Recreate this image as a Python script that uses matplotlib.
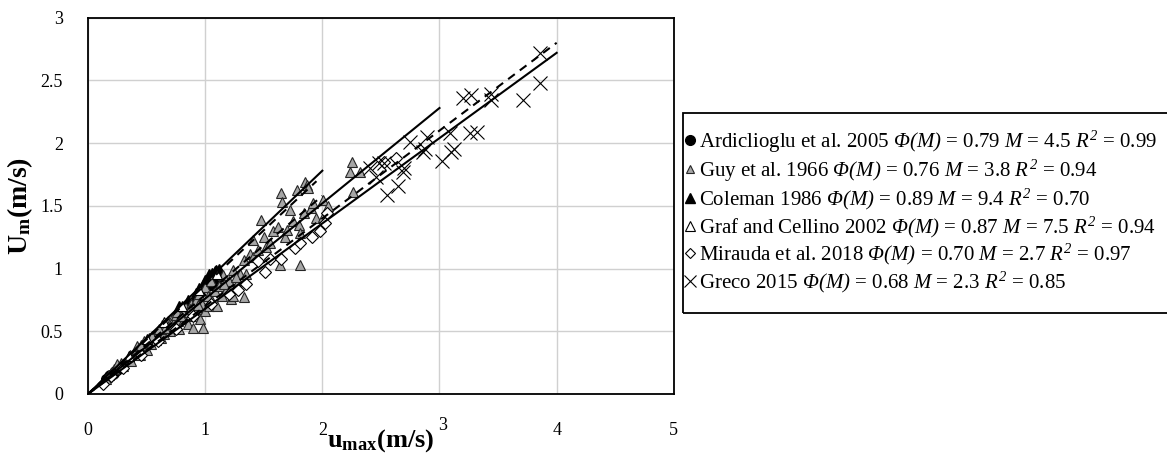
import matplotlib
matplotlib.use("Agg")
import matplotlib.pyplot as plt
from matplotlib.patches import Rectangle
import matplotlib.transforms as mtransforms
import numpy as np

# ---- data ----
ardi_x = [0.15, 0.17, 0.19, 0.21, 0.23, 0.25, 0.18, 0.22]
ardi_y = [0.12, 0.13, 0.15, 0.16, 0.18, 0.19, 0.14, 0.17]

guy_x = [0.15, 0.18, 0.20, 0.22, 0.25, 0.28, 0.30, 0.33, 0.35, 0.37, 0.40, 0.42, 0.44,
         0.46, 0.48, 0.50, 0.52, 0.54, 0.56, 0.58, 0.60, 0.62, 0.63, 0.65, 0.67, 0.68,
         0.70, 0.72, 0.74, 0.75, 0.77, 0.78, 0.80, 0.82, 0.83, 0.85, 0.86, 0.88, 0.90,
         0.90, 0.92, 0.93, 0.95, 0.96, 0.97, 0.98, 1.00, 1.00, 1.02, 1.03, 1.05, 1.06,
         1.08, 1.10, 1.12, 1.14, 1.15, 1.18, 1.20, 1.22, 1.24, 1.24, 1.27, 1.30, 1.33,
         1.33, 1.35, 1.38, 1.41, 1.41, 1.45, 1.48, 1.50, 1.52, 1.55, 1.58, 1.62, 1.64,
         1.65, 1.66, 1.68, 1.70, 1.72, 1.75, 1.78, 1.80, 1.81, 1.81, 1.84, 1.85, 1.87,
         1.88, 1.90, 1.92, 1.95, 2.01, 2.01, 2.05, 2.24, 2.25, 2.26, 2.32,
         0.45, 0.55, 0.66, 0.76, 0.87, 0.36, 0.61, 0.71, 0.79, 0.94, 1.16, 1.26]
guy_y = [0.12, 0.15, 0.17, 0.20, 0.24, 0.25, 0.22, 0.27, 0.30, 0.26, 0.33, 0.38, 0.31,
         0.36, 0.42, 0.35, 0.45, 0.40, 0.47, 0.43, 0.50, 0.45, 0.55, 0.48, 0.52, 0.58,
         0.50, 0.60, 0.55, 0.63, 0.58, 0.52, 0.66, 0.60, 0.70, 0.56, 0.65, 0.72, 0.62,
         0.53, 0.75, 0.68, 0.80, 0.60, 0.72, 0.53, 0.85, 0.66, 0.78, 0.70, 0.90, 0.74,
         0.82, 0.70, 0.86, 0.78, 0.95, 0.83, 0.90, 0.76, 0.99, 0.78, 0.88, 0.96, 0.77,
         1.07, 0.96, 1.12, 1.09, 1.23, 1.15, 1.39, 1.25, 1.17, 1.20, 1.30, 1.33, 1.03,
         1.60, 1.53, 1.25, 1.31, 1.47, 1.38, 1.63, 1.35, 1.28, 1.03, 1.44, 1.69, 1.67,
         1.64, 1.48, 1.52, 1.40, 1.55, 1.41, 1.50, 1.77, 1.85, 1.61, 1.77,
         0.39, 0.46, 0.53, 0.65, 0.68, 0.31, 0.52, 0.56, 0.62, 0.71, 0.88, 0.93]

cole_x = [0.78, 0.85, 0.92, 0.95, 0.98, 1.00, 1.02, 1.03, 1.04, 1.05, 1.06, 1.07, 1.08,
          1.09, 1.10, 1.11, 1.12, 1.04, 1.08]
cole_y = [0.69, 0.74, 0.80, 0.84, 0.86, 0.90, 0.92, 0.95, 0.88, 0.94, 0.96, 0.90, 0.93,
          0.98, 0.95, 0.97, 0.99, 0.91, 0.97]

graf_x = [0.35, 0.50, 0.65, 0.80, 0.95, 1.10]
graf_y = [0.30, 0.44, 0.57, 0.70, 0.83, 0.96]

mira_x = [0.13, 0.20, 0.30, 0.45, 0.60, 0.75, 0.90, 1.05, 1.20, 1.28, 1.35, 1.45, 1.51,
          1.55, 1.65, 1.77, 1.81, 1.91, 1.98, 2.02, 2.04, 2.53, 2.63]
mira_y = [0.08, 0.14, 0.21, 0.31, 0.42, 0.52, 0.62, 0.72, 0.80, 0.83, 0.88, 1.06, 0.97,
          1.08, 1.08, 1.16, 1.20, 1.25, 1.30, 1.36, 1.44, 1.85, 1.88]

greco_x = [2.41, 2.46, 2.48, 2.53, 2.55, 2.65, 2.69, 2.70, 2.75, 2.86, 2.88, 2.89, 3.02,
           3.09, 3.10, 3.12, 3.20, 3.26, 3.27, 3.32, 3.44, 3.44, 3.71, 3.86, 3.86]
greco_y = [1.80, 1.73, 1.84, 1.84, 1.59, 1.66, 1.77, 1.80, 2.01, 1.93, 1.95, 2.05, 1.86,
           2.08, 1.93, 1.95, 2.36, 2.08, 2.38, 2.09, 2.39, 2.34, 2.34, 2.48, 2.72]

# fitted lines Um = phi * umax : (phi, x end, style)
fit_phi = [0.89, 0.87, 0.79, 0.76, 0.70, 0.68]
fit_xend = [2.0, 1.95, 2.0, 3.0, 4.0, 4.0]
fit_style = ['-', '--', '--', '-', '--', '-']

# math parts are set in italic (mathtext.rm is mapped to the italic face below)
labels = [
    r"Ardiclioglu et al. 2005 $Φ(M)$ = 0.79 $M$ = 4.5 $R^2$ = 0.99",
    r"Guy et al. 1966 $Φ(M)$ = 0.76 $M$ = 3.8 $R^2$ = 0.94",
    r"Coleman 1986 $Φ(M)$ = 0.89 $M$ = 9.4 $R^2$ = 0.70",
    r"Graf and Cellino 2002 $Φ(M)$ = 0.87 $M$ = 7.5 $R^2$ = 0.94",
    r"Mirauda et al. 2018 $Φ(M)$ = 0.70 $M$ = 2.7 $R^2$ = 0.97",
    r"Greco 2015 $Φ(M)$ = 0.68 $M$ = 2.3 $R^2$ = 0.85",
]

# ---- style ----
plt.rcParams['font.family'] = ['Liberation Serif', 'DejaVu Serif']
plt.rcParams['mathtext.fontset'] = 'custom'
plt.rcParams['mathtext.rm'] = 'Liberation Serif:italic'
plt.rcParams['mathtext.it'] = 'Liberation Serif:italic'
plt.rcParams['mathtext.bf'] = 'Liberation Serif:bold'

fig = plt.figure(figsize=(11.67, 4.54), dpi=100)
ax = fig.add_axes([0.0754, 0.1322, 0.502, 0.8288])

h1, = ax.plot(ardi_x, ardi_y, 'o', ms=7, mfc='black', mec='black', lw=0, zorder=3)
h3, = ax.plot(cole_x, cole_y, '^', ms=8, mfc='black', mec='black', lw=0, zorder=3)
h2, = ax.plot(guy_x, guy_y, '^', ms=7, mfc='#a6a6a6', mec='#262626', mew=0.8, lw=0, zorder=4)
h4, = ax.plot(graf_x, graf_y, '^', ms=7, mfc='white', mec='black', mew=0.8, lw=0, zorder=4)
h5, = ax.plot(mira_x, mira_y, 'D', ms=6, mfc='white', mec='black', mew=0.8, lw=0, zorder=5)
h6, = ax.plot(greco_x, greco_y, 'x', ms=10, mec='black', mew=0.8, lw=0, zorder=5)

for phi, xe, ls in zip(fit_phi, fit_xend, fit_style):
    xx = np.array([0, xe])
    ax.plot(xx, phi * xx, color='black', ls=ls, lw=1.5, zorder=6,
            dashes=(4, 3) if ls == '--' else (None, None))

ax.set_xlim(0, 5)
ax.set_ylim(0, 3)
ax.set_xticks([0, 1, 2, 3, 4, 5])
ax.set_yticks([0, 0.5, 1, 1.5, 2, 2.5, 3])
ax.set_yticklabels(['0', '0.5', '1', '1.5', '2', '2.5', '3'])
ax.grid(True, color='#d0d0d0', lw=1)
ax.set_axisbelow(True)
ax.tick_params(length=0, labelsize=13)
ax.tick_params(axis='x', pad=20)
ax.tick_params(axis='y', pad=18)
for s in ax.spines.values():
    s.set_linewidth(1.3)
    s.set_color('black')

ax.set_xlabel(r"$\mathbf{u_{max}}$(m/s)", fontsize=19, fontweight='bold')
ax.xaxis.set_label_coords(0.5, -0.088)
ax.set_ylabel(r"$\mathbf{U_m}$(m/s)", fontsize=20, fontweight='bold')
ax.yaxis.set_label_coords(-0.09, 0.5)

# the "3" sits a little higher, over the end of the axis title
fig.canvas.draw()
lab3 = ax.get_xticklabels()[3]
lab3.set_transform(lab3.get_transform() +
                   mtransforms.ScaledTranslation(3 / 100, 5 / 100, fig.dpi_scale_trans))

leg = fig.legend([h1, h2, h3, h4, h5, h6], labels,
                 loc='center left', bbox_to_anchor=(684 / 1167, 1 - 212 / 454),
                 fontsize=15, frameon=False,
                 handlelength=0.6, handletextpad=0.12, borderpad=0,
                 labelspacing=0.13, borderaxespad=0)
hsizes = [7, 5.5, 7, 7, 5.5, 8]
for lh, s in zip(leg.legend_handles, hsizes):
    lh.set_markersize(s)

# legend box, runs off the right edge as in the original
fig.patches.append(Rectangle((683 / 1167, 1 - 313 / 454), 0.5, 200 / 454,
                             transform=fig.transFigure, fill=False,
                             edgecolor='black', lw=1.3))

fig.savefig("out.png", dpi=100)
